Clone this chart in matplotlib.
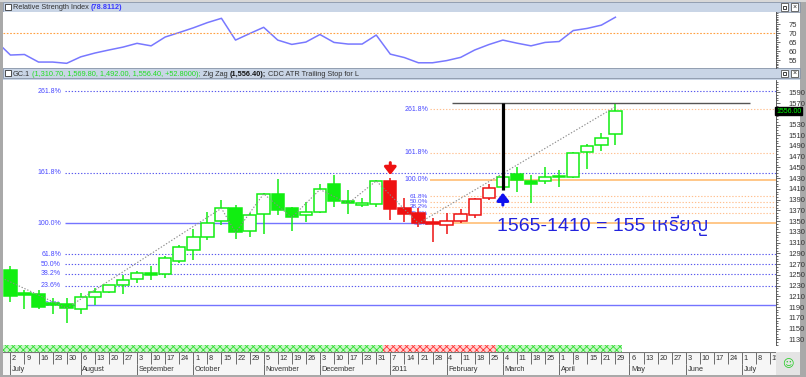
import numpy as np
import matplotlib
matplotlib.use("Agg")
import matplotlib.pyplot as plt
from matplotlib.patches import Rectangle
from matplotlib.ticker import MultipleLocator
import matplotlib.transforms as mtrans
from matplotlib import font_manager
from matplotlib.ft2font import FT2Font

W, H = 806, 377

# ---------------- data (weekly gold futures GC.1) ----------------
weeks = list(range(44))
opens  = [1259, 1216, 1214, 1197, 1195, 1186, 1208, 1219, 1231, 1242, 1253, 1252, 1276, 1296, 1321,
          1351, 1374, 1332, 1363, 1401, 1374, 1361, 1368, 1419, 1388, 1380, 1382, 1425, 1374, 1365,
          1348, 1342, 1350, 1361, 1393, 1414, 1438, 1425, 1425, 1432, 1433, 1478, 1491, 1513]
highs  = [1266, 1222, 1222, 1206, 1206, 1217, 1225, 1232, 1250, 1257, 1266, 1285, 1306, 1335, 1368,
          1389, 1380, 1365, 1402, 1428, 1376, 1386, 1420, 1436, 1408, 1393, 1427, 1430, 1393, 1374,
          1355, 1365, 1373, 1394, 1420, 1436, 1450, 1436, 1451, 1445, 1479, 1493, 1514, 1570]
lows   = [1200, 1186, 1186, 1177, 1161, 1178, 1194, 1216, 1214, 1234, 1240, 1244, 1273, 1278, 1315,
          1343, 1317, 1321, 1327, 1361, 1332, 1349, 1365, 1376, 1363, 1376, 1376, 1353, 1349, 1340,
          1312, 1326, 1346, 1356, 1390, 1408, 1405, 1383, 1419, 1414, 1430, 1447, 1481, 1492]
closes = [1211, 1213, 1191, 1194, 1188, 1208, 1219, 1231, 1240, 1253, 1250, 1281, 1301, 1320, 1347,
          1374, 1329, 1361, 1401, 1370, 1357, 1368, 1409, 1388, 1383, 1384, 1425, 1372, 1363, 1346,
          1345, 1351, 1363, 1391, 1412, 1433, 1427, 1420, 1432, 1434, 1477, 1490, 1504, 1556]
# CDC ATR trailing stop state: 1 = up (green), -1 = down (red)
trend = [1] * 27 + [-1] * 8 + [1] * 9

rsi_weeks = list(range(-1, 44))
rsi = [65.4, 57.8, 58.1, 53.9, 53.9, 53.2, 56.8, 58.9, 60.6, 62.2, 64.3, 62.9, 67.8, 70.3, 72.9,
       75.8, 78.2, 66.1, 69.7, 73.2, 66.1, 63.7, 65.0, 69.2, 64.8, 63.9, 63.9, 68.9, 58.3, 56.4,
       53.5, 53.5, 54.7, 56.5, 60.6, 63.6, 66.1, 64.4, 62.9, 64.8, 65.3, 71.4, 72.6, 74.4, 78.8]

zz_weeks = [-1, 4, 15, 16, 18, 20, 22, 24, 26, 29, 43]
zz_vals = [1249, 1188, 1374, 1329, 1401, 1357, 1409, 1383, 1425, 1346, 1563]

fib_levels = [0.0, 23.6, 38.2, 50.0, 61.8, 100.0, 161.8, 261.8]
fib_blue = (1194, 1346)
fib_orange = (1346, 1427)

measure_top, measure_bottom = 1570, 1408
note_text = "1565-1410 = 155 เหรียญ"

price_ticks = list(range(1130, 1600, 20))
day_labels = ["2", "9", "16", "23", "30", "6", "13", "20", "27", "3", "10", "17", "24",
              "1", "8", "15", "22", "29", "5", "12", "19", "26", "3", "10", "17", "23", "31",
              "7", "14", "21", "28", "4", "11", "18", "25", "4", "11", "18", "25",
              "1", "8", "15", "21", "29", "6", "13", "20", "27", "3", "10", "17", "24",
              "1", "8", "15"]
month_names = ["July", "August", "September", "October", "November", "December", "2011",
               "February", "March", "April", "May", "June", "July"]
month_start = [0, 5, 9, 13, 18, 22, 27, 31, 35, 39, 44, 48, 52]

# ---------------- helpers ----------------
def rect(x0, y0, x1, y1):
    return [x0 / W, 1 - y1 / H, (x1 - x0) / W, (y1 - y0) / H]

def find_font(chars):
    cands = []
    for f in font_manager.fontManager.ttflist:
        try:
            ft = FT2Font(f.fname)
            if all(ft.get_char_index(ord(c)) for c in chars):
                cands.append(f.name)
        except Exception:
            pass
    cands.sort(key=lambda n: (0 if "Sans" in n else 1, n))
    return cands[0] if cands else None

thai = find_font("เหรียญ")
big_family = ["Liberation Sans"] + ([thai] if thai else []) + ["DejaVu Sans"]
names = {f.name for f in font_manager.fontManager.ttflist}
small_family = ["Liberation Sans Narrow"] if "Liberation Sans Narrow" in names else ["Liberation Sans"]
small_family = small_family + ["DejaVu Sans"]

plt.rcParams["font.family"] = small_family
plt.rcParams["hatch.linewidth"] = 0.6

XL = ((3 - 10.4) / 14.07, (776 - 10.4) / 14.07)
def px2i(x):
    return (x - 10.4) / 14.07

fig = plt.figure(figsize=(W / 100, H / 100), dpi=100, facecolor="#a9a9a9")

# panel backgrounds
bg = [((0, 0, 806, 2), "#d8d8d8"),
      ((3, 2, 800, 12), "#c9d5e6"), ((3, 12, 800, 68), "white"),
      ((3, 68, 800, 80), "#c9d5e6"), ((3, 80, 800, 352), "white"),
      ((3, 352, 776, 375), "#f6f6f6"), ((776, 352, 800, 375), "#e4e4e4")]
for (x0, y0, x1, y1), c in bg:
    fig.patches.append(Rectangle((x0 / W, 1 - y1 / H), (x1 - x0) / W, (y1 - y0) / H,
                                 transform=fig.transFigure, facecolor=c, edgecolor="none", zorder=-5))
for yb in (2, 68):
    fig.patches.append(Rectangle((3 / W, 1 - (yb + 10) / H), (797) / W, 10 / H, transform=fig.transFigure,
                                 facecolor="none", edgecolor="#8a96a8", lw=0.6, zorder=-4))
    fig.patches.append(Rectangle((5 / W, 1 - (yb + 8) / H), 6 / W, 6 / H, transform=fig.transFigure,
                                 facecolor="white", edgecolor="#333", lw=0.6))
    for xi in (781, 791):
        fig.patches.append(Rectangle((xi / W, 1 - (yb + 8.5) / H), 7 / W, 7 / H, transform=fig.transFigure,
                                     facecolor="white", edgecolor="#555", lw=0.6))
    fig.text(794.5 / W, 1 - (yb + 5) / H, "×", fontsize=5, ha="center", va="center", color="#222")
    fig.patches.append(Rectangle((783 / W, 1 - (yb + 7) / H), 3 / W, 3 / H, transform=fig.transFigure,
                                 facecolor="none", edgecolor="#222", lw=0.6))

def chain(x_px, y_px, pieces, size=5.3):
    r = fig.canvas.get_renderer()
    x = x_px
    for s, c, w in pieces:
        t = fig.text(x / W, 1 - y_px / H, s, color=c, fontsize=size, fontweight=w,
                     ha="left", va="center")
        bb = t.get_window_extent(renderer=r)
        x += bb.width + 2.0

chain(13, 7.3, [("Relative Strength Index", "#333333", "normal"), ("(78.8112)", "#3a3aff", "bold")])
chain(13, 74.5, [("GC.1", "#333333", "normal"),
                 ("(1,310.70, 1,569.80, 1,492.00, 1,556.40, +52.8000);", "#22dd22", "normal"),
                 ("Zig Zag", "#333333", "normal"), ("(1,556.40);", "#111111", "bold"),
                 ("CDC ATR Trailing Stop for L", "#333333", "normal")])

# ---------------- RSI panel ----------------
axr = fig.add_axes(rect(3, 12, 776, 68))
axr.set_facecolor("white")
axr.plot(rsi_weeks, rsi, color="#7878ff", lw=1.1)
axr.axhline(70, color="#ffa040", lw=0.8, ls=(0, (1.5, 1.5)))
axr.set_xlim(*XL)
axr.set_ylim(50.6, 81.7)
axr.yaxis.tick_right()
axr.set_yticks([55, 60, 65, 70, 75])
axr.yaxis.set_minor_locator(MultipleLocator(1))
axr.tick_params(axis="y", which="major", labelsize=5.5, length=3, width=0.5, pad=6, colors="#333")
axr.tick_params(axis="y", which="minor", length=1.5, width=0.5, colors="#333")
axr.set_xticks([])
for s in ("top", "left", "bottom"):
    axr.spines[s].set_visible(False)
axr.spines["right"].set_color("#444")
axr.spines["right"].set_linewidth(0.6)

# ---------------- main price panel ----------------
ax = fig.add_axes(rect(3, 80, 776, 345))
ax.set_facecolor("white")
ax.set_xlim(*XL)
ax.set_ylim(1119.4, 1612.9)

# fibonacci (blue set)
lo, hi = fib_blue
x_b0 = px2i(65)
for lv in fib_levels:
    p = lo + (hi - lo) * lv / 100
    solid = lv in (0.0, 100.0)
    ax.hlines(p, x_b0, px2i(430) if lv == 100.0 else XL[1], color="#7474ff" if solid else "#5a5aee",
              lw=1.0 if solid else 0.8, ls="-" if solid else (0, (1.2, 1.6)), zorder=1)
    ax.text(px2i(61), p, f"{lv:.1f}%", ha="right", va="center", fontsize=5, color="#4a4aff", zorder=3)

# fibonacci (orange set)
lo, hi = fib_orange
for lv in fib_levels:
    p = lo + (hi - lo) * lv / 100
    solid = lv in (0.0, 100.0)
    ax.hlines(p, px2i(430), XL[1], color="#ffb868" if solid else "#ffc090",
              lw=1.1 if solid else 0.8, ls="-" if solid else (0, (1.2, 1.6)), zorder=1.5)
    ax.text(px2i(428), p, f"{lv:.1f}%", ha="right", va="center",
            fontsize=4.6 if lv < 100 else 5, color="#4a4aff", zorder=3)

# candles
for i, o, h, l, c, t in zip(weeks, opens, highs, lows, closes, trend):
    col = "#11ee11" if t > 0 else "#ee1111"
    ax.vlines(i, l, h, color=col, lw=1.1, zorder=4)
    bottom = min(o, c)
    height = max(abs(c - o), 0.8)
    face = "white" if c > o else col
    ax.bar(i, height, bottom=bottom, width=0.88, facecolor=face, edgecolor=col, lw=1.1, zorder=5)

# zig zag
ax.plot(zz_weeks, zz_vals, color="#8a8a8a", lw=0.8, ls=(0, (1.2, 1.6)), zorder=6)

# measurement lines / arrows
ax.hlines(measure_top, px2i(452), px2i(750), color="#555555", lw=1.0, zorder=6)
ax.vlines(35, measure_bottom, measure_top, color="black", lw=2.3, zorder=7)
ax.annotate("", xy=(35, 1403), xytext=(35, 1380),
            arrowprops=dict(arrowstyle="-|>,head_width=0.35,head_length=0.45", color="#1010ee",
                            lw=2.2, mutation_scale=10, shrinkA=0, shrinkB=0), zorder=7)
ax.annotate("", xy=(27, 1436), xytext=(27, 1459),
            arrowprops=dict(arrowstyle="-|>,head_width=0.35,head_length=0.45", color="#ee1111",
                            lw=2.2, mutation_scale=10, shrinkA=0, shrinkB=0), zorder=7)
ax.text(px2i(497), 1331.5, note_text, family=big_family, fontsize=14, color="#2222dd",
        ha="left", va="baseline", zorder=8)

ax.yaxis.tick_right()
ax.set_yticks(price_ticks)
# the last-price box covers the 1550 label, as in the original
ax.set_yticklabels(["" if v == 1550 else str(v) for v in price_ticks])
ax.yaxis.set_minor_locator(MultipleLocator(5))
ax.tick_params(axis="y", which="major", labelsize=5.5, length=3, width=0.5, pad=6, colors="#333")
ax.tick_params(axis="y", which="minor", length=1.5, width=0.5, colors="#333")
ax.set_xticks([])
for s in ("top", "left", "bottom"):
    ax.spines[s].set_visible(False)
ax.spines["right"].set_color("#444")
ax.spines["right"].set_linewidth(0.6)

trans = mtrans.blended_transform_factory(ax.transAxes, ax.transData)
ax.text(1.0, closes[-1] - 1, f"{closes[-1]:.2f}", transform=trans, ha="left", va="center",
        fontsize=5.0, color="#00ff00", clip_on=False, zorder=10,
        bbox=dict(facecolor="black", edgecolor="black", pad=0.6))

# ---------------- trend band ----------------
axb = fig.add_axes(rect(3, 345, 776, 352))
axb.set_xlim(*XL)
axb.set_ylim(0, 1)
band_x = [-1] + weeks
band_t = [trend[0]] + trend
for i, t in zip(band_x, band_t):
    if t > 0:
        axb.bar(i, 1, width=1.0, facecolor="#c6f7c6", edgecolor="#33dd33", hatch="xxxxx", lw=0)
    else:
        axb.bar(i, 1, width=1.0, facecolor="#ffd2d2", edgecolor="#ff3333", hatch="xxxxx", lw=0)
axb.axis("off")

# ---------------- date axis ----------------
axd = fig.add_axes(rect(3, 352, 776, 375))
axd.set_facecolor("#f6f6f6")
axd.set_xlim(*XL)
axd.set_ylim(0, 2)
day_x = list(range(len(day_labels)))
axd.vlines(day_x, 1.0, 2.0, color="#555", lw=0.6)
for i, s in zip(day_x, day_labels):
    axd.text(i + 0.12, 1.47, s, fontsize=5.3, color="#333", ha="left", va="center", clip_on=True)
axd.vlines(month_start, 0.0, 1.0, color="#555", lw=0.6)
for i, s in zip(month_start, month_names):
    axd.text(i + 0.12, 0.5, s, fontsize=5.3, color="#333", ha="left", va="center", clip_on=True)
axd.axhline(2.0, color="#777", lw=0.8)
axd.set_xticks([])
axd.set_yticks([])
for s in axd.spines.values():
    s.set_visible(False)

# smiley icon
fig.text(788 / W, 1 - 364 / H, "☺", fontsize=8, color="#22cc22", ha="center", va="center",
         family=["DejaVu Sans"])

fig.savefig("out.png", dpi=100, facecolor=fig.get_facecolor())
